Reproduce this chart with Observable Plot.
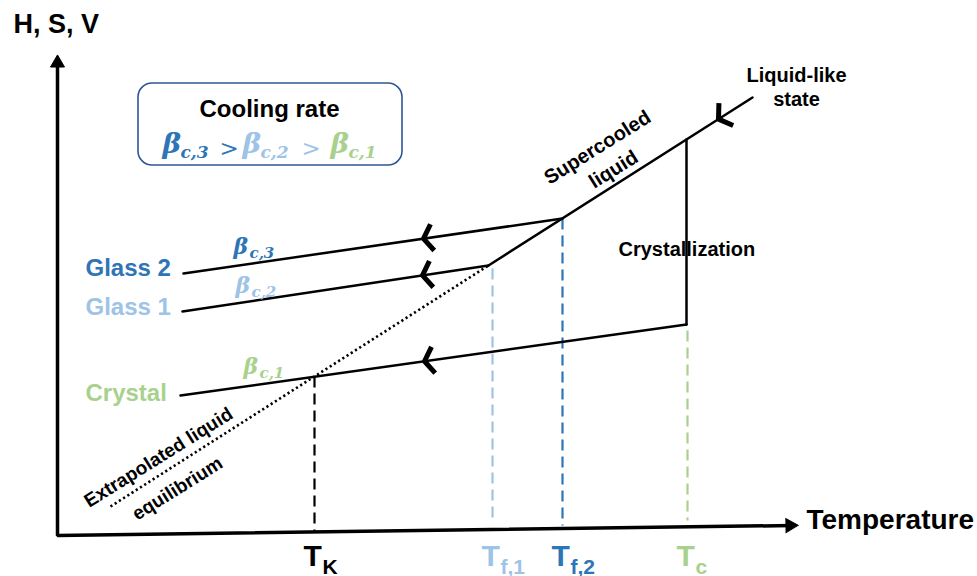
<!DOCTYPE html>
<html>
<head>
<meta charset="utf-8">
<script src="https://cdn.jsdelivr.net/npm/d3@7"></script>
<script src="https://cdn.jsdelivr.net/npm/@observablehq/plot@0.6"></script>
<style>
html,body{margin:0;padding:0;background:#fff;overflow:hidden;}
</style>
</head>
<body>
<div id="chart"></div>
<script>
// ---------- Data (diagram units: temperature → x, H/S/V → y) ----------
const liquidT  = [488, 752];  const liquidP  = [311, 479];   // supercooled / liquid-like
const extrapT  = [110, 488];  const extrapP  = [70, 311];    // extrapolated liquid equilibrium
const glass2T  = [183, 562];  const glass2P  = [303, 358];
const glass1T  = [182, 488];  const glass1P  = [265, 311];
const crystalT = [180, 686];  const crystalP = [181, 252];
const crystzT  = [686, 686];  const crystzP  = [252, 437];   // crystallization jump

const axisT = [57, 57, 790];  const axisP = [514, 41, 51];
const arrowT = [57, 789.5];   const arrowP = [513.5, 51];  const arrowRot = [0, 89];

const tempSub    = ["K", "f,1", "f,2", "c"];
const tempT      = [314, 492, 562, 687];
const tempTop    = [200, 308, 358, 246];
const tempBottom = [44, 59, 51, 56];

const phaseNames = ["Glass 2", "Glass 1", "Crystal"];
const rateSub    = ["c,3", "c,2", "c,1"];
const rateT      = [233, 235, 243];
const rateP      = [323, 284, 203];
const phaseP     = [301, 262, 176];

const chevT    = [423, 422, 424, 718];
const chevLine = ["glass2", "glass1", "crystal", "liquid"];

// ---------- Styles ----------
const BLUE = "#2E75B6", LBLUE = "#9DC3E6", GREEN = "#A9D18E", BOXBLUE = "#2F5597";
const tempColor  = ["#000000", LBLUE, BLUE, GREEN];
const rateColor  = [BLUE, LBLUE, GREEN];
const SANS = "Liberation Sans, Arial, sans-serif";
const SERIF = "DejaVu Serif, serif";

// ---------- Helpers ----------
const pts = (T, P) => T.map((t, i) => ({x: t, y: P[i]}));
const lines = {
  glass2: [glass2T, glass2P], glass1: [glass1T, glass1P],
  crystal: [crystalT, crystalP], liquid: [liquidT, liquidP]
};
const interp = ([T, P], t) => P[0] + (t - T[0]) * (P[1] - P[0]) / (T[1] - T[0]);

// chevron polylines (arm – tip – arm), oriented along each line
const chevPts = [];
chevT.forEach((t, i) => {
  const L = lines[chevLine[i]];
  const tip = {x: t, y: interp(L, t)};
  const th = Math.atan2(L[1][1] - L[1][0], L[0][1] - L[0][0]);
  const a = 56 * Math.PI / 180, len = 16;
  chevPts.push({x: tip.x + len * Math.cos(th + a), y: tip.y + len * Math.sin(th + a), z: i});
  chevPts.push({x: tip.x, y: tip.y, z: i});
  chevPts.push({x: tip.x + len * Math.cos(th - a), y: tip.y + len * Math.sin(th - a), z: i});
});

const temps = tempT.map((t, i) => ({x: t, top: tempTop[i], bottom: tempBottom[i], c: tempColor[i], sub: tempSub[i]}));
const phases = phaseNames.map((n, i) => ({n, y: phaseP[i], c: rateColor[i]}));
const rates = rateSub.map((s, i) => ({s, x: rateT[i], y: rateP[i], c: rateColor[i]}));

const boxRate = rateSub.map((s, i) => ({s, x: [162, 242, 330][i], c: rateColor[i]}));
const boxGt = [{x: 219, c: BLUE}, {x: 301, c: LBLUE}];

const txt = (data, o) => Plot.text(data, {fontFamily: SANS, fontWeight: "bold", lineAnchor: "bottom", textAnchor: "start", ...o});

const chart = Plot.plot({
  width: 977, height: 576,
  margin: 0, marginTop: 0, marginRight: 0, marginBottom: 0, marginLeft: 0,
  x: {domain: [0, 977], range: [0, 977], axis: null},
  y: {domain: [0, 576], range: [576, 0], axis: null},
  color: {type: "identity"},
  style: {background: "white"},
  marks: [
    // cooling-rate box
    Plot.rect([{x1: 138, x2: 402, y1: 411, y2: 493}], {x1: "x1", x2: "x2", y1: "y1", y2: "y2", rx: 14, fill: "white", stroke: BOXBLUE, strokeWidth: 1.6}),
    // dashed temperature markers
    Plot.link(temps, {x1: "x", x2: "x", y1: "top", y2: "bottom", stroke: "c", strokeWidth: 2.2, strokeDasharray: "11,6", strokeLinecap: "butt"}),
    // axes
    Plot.line(pts(axisT, axisP), {x: "x", y: "y", stroke: "black", strokeWidth: 3.5, strokeLinejoin: "miter", strokeLinecap: "square"}),
    Plot.dot(pts(arrowT, arrowP).map((d, i) => ({...d, r: arrowRot[i]})), {x: "x", y: "y", symbol: "triangle", r: 5.2, fill: "black", stroke: "black", strokeWidth: 1, rotate: "r"}),
    // extrapolated liquid equilibrium (dotted)
    Plot.line(pts(extrapT, extrapP), {x: "x", y: "y", stroke: "black", strokeWidth: 2.6, strokeDasharray: "2.2,2.8", strokeLinecap: "butt"}),
    // state lines
    Plot.line(pts(liquidT, liquidP), {x: "x", y: "y", stroke: "black", strokeWidth: 2.5}),
    Plot.line(pts(glass2T, glass2P), {x: "x", y: "y", stroke: "black", strokeWidth: 2.5}),
    Plot.line(pts(glass1T, glass1P), {x: "x", y: "y", stroke: "black", strokeWidth: 2.5}),
    Plot.line(pts(crystalT, crystalP), {x: "x", y: "y", stroke: "black", strokeWidth: 2.5}),
    Plot.line(pts(crystzT, crystzP), {x: "x", y: "y", stroke: "black", strokeWidth: 2.5}),
    // cooling-direction chevrons
    Plot.line(chevPts, {x: "x", y: "y", z: "z", stroke: "black", strokeWidth: 5, strokeLinejoin: "miter", strokeLinecap: "butt"}),

    // axis titles
    txt([{t: "H, S, V"}], {x: () => 13, y: () => 544, text: "t", fontSize: 27}),
    txt([{t: "Temperature"}], {x: () => 806, y: () => 48, text: "t", fontSize: 28}),

    // temperature tick labels
    txt(temps, {x: "x", y: () => 11, text: () => "T", fill: "c", fontSize: 30, dx: -11}),
    txt(temps, {x: "x", y: () => 3, text: "sub", fill: "c", fontSize: 21, dx: 8}),

    // phase labels
    txt(phases, {x: () => 85, y: "y", text: "n", fill: "c", fontSize: 24}),

    // cooling rate labels on lines
    txt(rates, {x: "x", y: "y", text: () => "β", fill: "c", fontSize: 22, fontStyle: "italic", fontFamily: SERIF}),
    txt(rates, {x: "x", y: d => d.y - 4, text: "s", fill: "c", fontSize: 15, fontStyle: "italic", fontFamily: SERIF, dx: 16}),

    // box contents
    txt([{t: "Cooling rate"}], {x: () => 269, y: () => 460, text: "t", fontSize: 24, textAnchor: "middle"}),
    txt(boxRate, {x: "x", y: () => 424, text: () => "β", fill: "c", fontSize: 28, fontStyle: "italic", fontFamily: SERIF}),
    txt(boxRate, {x: "x", y: () => 419, text: "s", fill: "c", fontSize: 17, fontStyle: "italic", fontFamily: SERIF, dx: 18}),
    txt(boxGt, {x: "x", y: () => 421, text: () => ">", fill: "c", fontSize: 23, fontWeight: "normal", fontFamily: SERIF}),

    // annotations
    txt([{t: "Crystallization"}], {x: () => 618, y: () => 321, text: "t", fontSize: 20}),
    txt([{t: "Liquid-like"}, {t: "state"}], {x: () => 796, y: (d, i) => [495, 471][i], text: "t", fontSize: 20, textAnchor: "middle"}),
    txt([{t: "Supercooled", x: 597, y: 429}, {t: "liquid", x: 613, y: 407}], {x: "x", y: "y", text: "t", fontSize: 20, textAnchor: "middle", lineAnchor: "middle", rotate: -32}),
    txt([{t: "Extrapolated liquid", x: 158, y: 119}, {t: "equilibrium", x: 177, y: 88}], {x: "x", y: "y", text: "t", fontSize: 19, textAnchor: "middle", lineAnchor: "middle", rotate: -32})
  ]
});
document.getElementById("chart").appendChild(chart);
</script>
</body>
</html>
